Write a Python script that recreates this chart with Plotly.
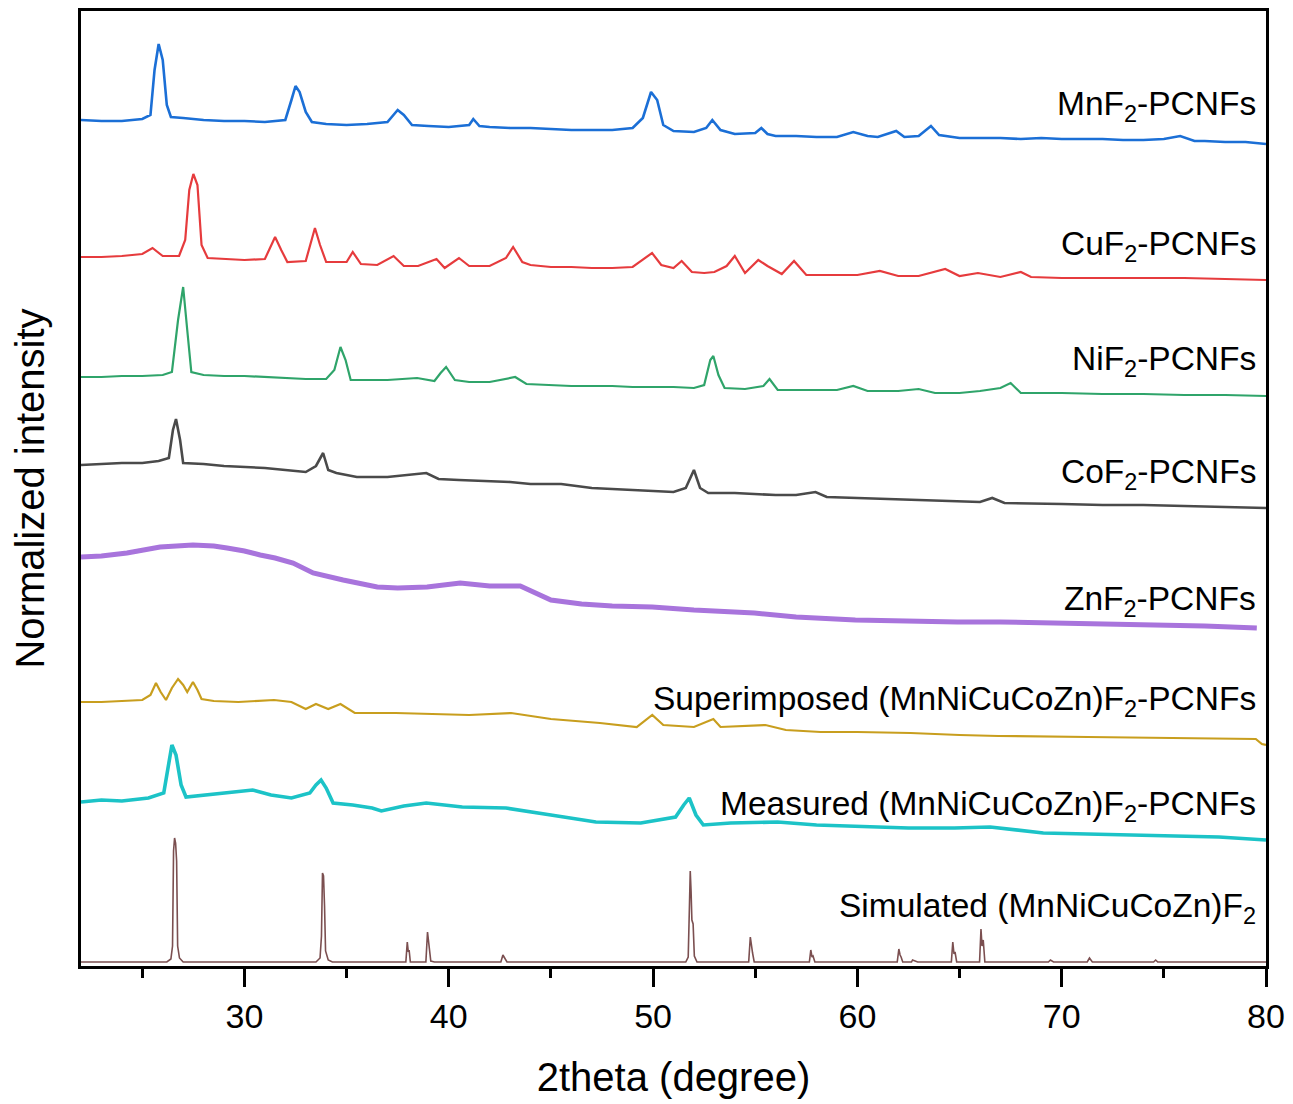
import plotly.graph_objects as go

# ---------------- data (2theta in degree, normalized intensity incl. stacking offset) -------------
MNF2 = [(22.0,84.6),(23.0,84.5),(24.0,84.5),(25.0,84.7),(25.4,85.1),(25.6,89.6),(25.8,92.2),(26.0,90.6),
        (26.2,86.1),(26.4,84.9),(27,84.8),(28,84.6),(29,84.5),(30,84.5),(31,84.4),(32.0,84.6),(32.3,86.6),
        (32.5,88.0),(32.7,87.4),(33.0,85.4),(33.3,84.4),(34,84.2),(35,84.1),(36,84.2),(37,84.4),(37.5,85.6),
        (37.8,85.1),(38.2,84.1),(39,84.0),(40,83.9),(41,84.1),(41.2,84.7),(41.5,84.0),(42,83.9),(43,83.8),
        (44,83.8),(45,83.7),(46,83.6),(47,83.6),(48,83.6),(49.0,83.8),(49.5,84.8),(49.9,87.4),(50.2,86.6),
        (50.5,84.1),(51,83.5),(52,83.4),(52.6,83.8),(52.9,84.6),(53.3,83.6),(54,83.2),(55,83.3),(55.3,83.8),
        (55.6,83.2),(56,83.0),(57,83.0),(58,82.9),(59,82.9),(59.8,83.4),(60.5,83.0),(61,82.9),(61.9,83.5),
        (62.3,82.9),(63,83.0),(63.6,84.0),(64,83.1),(65,82.8),(66,82.8),(67,82.8),(68,82.7),(69,82.8),
        (70,82.7),(71,82.7),(72,82.7),(73,82.6),(74,82.6),(75,82.7),(75.8,83.0),(76.5,82.5),(77,82.5),
        (78,82.4),(79,82.4),(80,82.2)]

CUF2 = [(22.0,70.9),(23.0,70.9),(24.0,71.0),(25.0,71.2),(25.5,71.8),(26.0,71.0),(26.8,71.0),(27.1,72.6),
        (27.3,77.6),(27.5,79.2),(27.7,78.1),(27.9,72.1),(28.2,70.8),(29,70.7),(30,70.6),(31.0,70.7),(31.3,72.1),
        (31.5,72.9),(31.8,71.6),(32.1,70.4),(33.0,70.5),(33.3,72.8),(33.45,73.8),(33.7,72.1),(34.0,70.4),
        (35.0,70.4),(35.3,71.4),(35.7,70.2),(36.5,70.1),(37.3,71.0),(37.8,70.0),(38.5,70.0),(39.4,70.7),
        (39.8,69.8),(40.5,70.8),(41.0,70.0),(42.0,70.0),(42.8,70.8),(43.15,71.9),(43.6,70.4),(44.0,70.1),
        (45,69.9),(46,69.9),(47,69.8),(48,69.8),(49.0,69.9),(49.6,70.8),(49.95,71.3),(50.4,70.1),(51.0,69.8),
        (51.4,70.5),(51.9,69.4),(52.5,69.3),(53.0,69.4),(53.6,70.0),(54.0,71.0),(54.5,69.3),(55.15,70.6),
        (55.6,70.0),(56.3,69.2),(56.9,70.5),(57.5,69.1),(58,69.1),(59,69.1),(60,69.1),(61.1,69.5),(62,69.0),
        (63,69.0),(64.3,69.7),(65,69.0),(65.9,69.3),(67,68.9),(68.0,69.4),(68.5,68.9),(70,68.8),(72,68.8),
        (74,68.8),(76,68.8),(78,68.7),(80,68.6)]

NIF2 = [(22.0,58.9),(23,58.9),(24,59.0),(25,59.0),(26.0,59.1),(26.45,59.4),(26.75,64.6),(27.0,67.9),
        (27.2,63.6),(27.4,59.4),(28,59.1),(29,59.0),(30,59.0),(31,58.9),(32,58.8),(33,58.7),(34.0,58.7),
        (34.4,59.6),(34.7,61.9),(34.95,60.6),(35.2,58.6),(36,58.6),(37,58.6),(38.45,58.8),(39.3,58.5),
        (39.6,59.3),(39.87,59.9),(40.3,58.6),(41,58.4),(42,58.4),(43.25,58.9),(43.8,58.2),(45,58.1),(46,58.0),
        (47,58.0),(48,58.0),(49,57.9),(50,57.9),(51,57.9),(52.0,57.8),(52.5,58.1),(52.8,60.6),(52.95,61.0),
        (53.2,59.1),(53.5,57.8),(54.5,57.7),(55.4,58.0),(55.7,58.7),(56.1,57.6),(57,57.6),(58,57.6),(59,57.6),
        (59.8,58.0),(60.5,57.5),(62,57.5),(63.0,57.7),(63.8,57.3),(65,57.3),(66,57.5),(67.0,57.8),(67.5,58.3),
        (68.0,57.3),(70,57.3),(72,57.2),(74,57.2),(76,57.1),(78,57.1),(80,57.0)]

COF2 = [(22.0,50.1),(23,50.2),(24,50.3),(25,50.3),(25.8,50.5),(26.3,50.8),(26.5,53.6),(26.65,54.7),
        (26.85,52.6),(27.0,50.3),(28,50.2),(29,50.0),(30,49.9),(31,49.8),(32,49.6),(33.0,49.4),(33.5,50.0),
        (33.85,51.3),(34.1,49.6),(34.5,49.3),(35.5,48.9),(37,48.9),(38.9,49.3),(39.5,48.7),(40.5,48.6),
        (42,48.5),(43,48.4),(44,48.2),(45.5,48.2),(47,47.8),(48,47.7),(49,47.6),(50,47.5),(51,47.4),
        (51.6,47.8),(52.0,49.6),(52.3,47.8),(52.7,47.3),(54,47.3),(55,47.2),(56,47.1),(57,47.1),(57.95,47.4),
        (58.5,46.9),(60,46.8),(62,46.7),(64,46.5),(66.0,46.4),(66.6,46.8),(67.2,46.3),(70,46.2),(72,46.1),
        (74,46.1),(76,46.0),(78,45.9),(80,45.8)]

ZNF2 = [(22.0,40.9),(23,41.0),(24.25,41.3),(25.0,41.6),(25.87,41.9),(27.48,42.1),(28.5,42.0),(29.15,41.8),
        (30.0,41.5),(30.77,41.1),(31.5,40.8),(32.38,40.3),(33.36,39.3),(34.83,38.6),(36.5,37.9),(37.5,37.8),
        (38.94,37.9),(40.56,38.3),(42.0,38.0),(43.5,38.0),(44.2,37.4),(45.0,36.6),(46.5,36.2),(48,36.0),
        (49.96,35.9),(52,35.6),(54.96,35.3),(57,34.9),(59.9,34.6),(62,34.5),(64.9,34.4),(67,34.4),
        (69.85,34.3),(72,34.2),(74.84,34.1),(77,34.0),(79.55,33.8)]

SUPER = [(22.0,26.4),(23,26.4),(24,26.5),(25.0,26.6),(25.4,27.1),(25.67,28.3),(25.9,27.4),(26.16,26.6),
         (26.45,27.8),(26.75,28.7),(27.0,28.1),(27.2,27.4),(27.48,28.4),(27.7,27.6),(27.9,26.7),(28.5,26.5),
         (29.7,26.4),(31.45,26.6),(32.3,26.4),(33.0,25.7),(33.5,26.2),(34.1,25.7),(34.7,26.2),(35.4,25.3),
         (37.4,25.3),(39.55,25.2),(41,25.1),(43.05,25.3),(45.0,24.7),(47.4,24.3),(49.2,23.9),(49.96,25.1),
         (50.5,24.1),(52.0,23.9),(52.95,24.7),(53.3,23.9),(55.5,24.1),(56.5,23.6),(58.2,23.4),(60,23.4),
         (62.6,23.3),(65,23.1),(66.9,23.0),(71.3,22.9),(75.6,22.8),(79.5,22.7),(79.8,22.2),(80,22.1)]

MEASURED = [(22.0,16.4),(23,16.6),(24,16.5),(25.3,16.8),(26.05,17.3),(26.25,19.6),(26.45,22.1),(26.65,21.1),
            (26.9,18.1),(27.14,16.9),(28,17.1),(29,17.3),(30.4,17.6),(31.3,17.1),(32.3,16.8),(33.2,17.3),
            (33.5,18.1),(33.75,18.6),(34.0,17.8),(34.34,16.3),(35.3,16.1),(36.25,15.8),(36.7,15.5),(37.8,16.0),
            (38.9,16.3),(40.66,15.9),(42.8,15.8),(45.0,15.1),(47.2,14.4),(49.4,14.3),(51.1,14.9),(51.5,16.1),
            (51.77,16.8),(52.1,15.1),(52.46,14.1),(53.8,14.3),(56.1,14.4),(58,14.1),(60.4,13.9),(62.5,13.8),
            (64.75,13.8),(66.5,13.9),(69.1,13.3),(71,13.2),(73.4,13.1),(75.5,13.0),(77.7,12.9),(80,12.6)]

SIMULATED = [(22.0,0.4),(26.2,0.4),(26.4,0.7),(26.48,2.0),(26.53,11.5),(26.58,12.8),(26.63,12.3),(26.68,10.5),
             (26.73,2.0),(26.82,0.8),(27.0,0.4),(33.5,0.4),(33.7,0.8),(33.77,3.0),(33.82,9.3),(33.87,9.0),
             (33.92,6.0),(33.97,1.5),(34.1,0.6),(34.3,0.4),(37.9,0.4),(37.97,2.4),(38.02,1.4),(38.06,1.6),
             (38.12,0.4),(38.88,0.4),(38.96,3.4),(39.01,2.4),(39.05,2.0),(39.12,0.5),(39.3,0.4),(42.55,0.4),
             (42.65,1.1),(42.75,0.7),(42.85,0.4),(51.6,0.4),(51.72,0.9),(51.78,6.0),(51.82,9.5),(51.86,7.5),
             (51.9,4.6),(51.96,4.2),(52.02,1.0),(52.15,0.4),(54.68,0.4),(54.76,2.9),(54.82,1.6),(54.87,1.3),
             (54.95,0.4),(57.65,0.4),(57.72,1.6),(57.78,0.9),(57.83,1.0),(57.92,0.4),(61.95,0.4),(62.03,1.7),
             (62.09,1.1),(62.14,0.9),(62.22,0.4),(62.65,0.4),(62.7,0.6),(62.85,0.5),(62.95,0.4),(64.6,0.4),
             (64.67,2.4),(64.73,1.2),(64.78,1.4),(64.86,0.4),(65.98,0.4),(66.05,3.7),(66.1,2.0),(66.16,2.6),
             (66.24,0.4),(69.35,0.4),(69.45,0.6),(69.6,0.4),(71.25,0.4),(71.36,0.8),(71.5,0.4),(74.5,0.4),
             (74.6,0.6),(74.7,0.4),(80,0.4)]

SERIES_NAMES = ["MnF<sub>2</sub>-PCNFs", "CuF<sub>2</sub>-PCNFs", "NiF<sub>2</sub>-PCNFs",
                "CoF<sub>2</sub>-PCNFs", "ZnF<sub>2</sub>-PCNFs",
                "Superimposed (MnNiCuCoZn)F<sub>2</sub>-PCNFs",
                "Measured (MnNiCuCoZn)F<sub>2</sub>-PCNFs",
                "Simulated (MnNiCuCoZn)F<sub>2</sub>"]
SERIES_DATA = [MNF2, CUF2, NIF2, COF2, ZNF2, SUPER, MEASURED, SIMULATED]
LABEL_Y = [86.0, 72.0, 60.5, 49.2, 36.5, 26.5, 16.0, 5.8]

COLORS = ["#1b6fd6", "#e63b3d", "#2fa46a", "#4a4a4a", "#a874dc", "#c89e1e", "#1cc3c7", "#7b4f50"]
WIDTHS = [2.6, 2.2, 2.2, 2.6, 5.0, 2.2, 3.6, 1.6]

FONT = "Arial, Liberation Sans, sans-serif"

fig = go.Figure()
for name, data, col, w in zip(SERIES_NAMES, SERIES_DATA, COLORS, WIDTHS):
    xs = [p[0] for p in data]
    ys = [p[1] for p in data]
    fig.add_trace(go.Scatter(x=xs, y=ys, mode="lines", name=name,
                             line=dict(color=col, width=w), showlegend=False))

for name, ly in zip(SERIES_NAMES, LABEL_Y):
    fig.add_annotation(x=79.6, y=ly, xref="x", yref="y", text=name, showarrow=False,
                       xanchor="right", yanchor="middle",
                       font=dict(family=FONT, size=33.5, color="black"))

# page body adds an 8px margin, so the figure is sized to fit the 1293x1104 window
fig.update_layout(
    width=1285, height=1096,
    margin=dict(l=73, r=27, t=3, b=138),
    paper_bgcolor="white", plot_bgcolor="white",
    font=dict(family=FONT, color="black"),
)
fig.update_xaxes(
    range=[22, 80], showgrid=False, zeroline=False, automargin=False,
    showline=True, linecolor="black", linewidth=3, mirror=True,
    ticks="outside", ticklen=18, tickwidth=3, tickcolor="black",
    tick0=0, dtick=10, tickfont=dict(family=FONT, size=34, color="black"),
    ticklabelstandoff=0,
    minor=dict(ticks="outside", ticklen=9, tickwidth=3, tickcolor="black", dtick=5, tick0=0, showgrid=False),
    title=dict(text="2theta (degree)", font=dict(family=FONT, size=40, color="black"), standoff=30),
)
fig.update_yaxes(
    range=[0, 95.5], showgrid=False, zeroline=False, automargin=False,
    showline=True, linecolor="black", linewidth=3, mirror=True,
    ticks="", showticklabels=False,
    title=dict(text="Normalized intensity", font=dict(family=FONT, size=40, color="black"), standoff=27),
)

fig.write_html("out.html")
